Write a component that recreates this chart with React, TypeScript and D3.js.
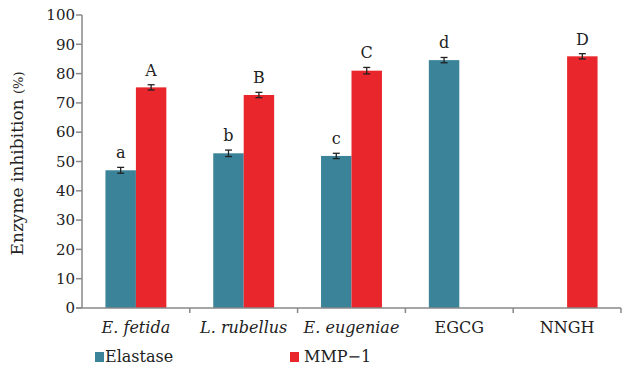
import React from 'react';
import * as d3 from 'd3';

const categories = ['E. fetida', 'L. rubellus', 'E. eugeniae', 'EGCG', 'NNGH'];
const italicCats = ['E. fetida', 'L. rubellus', 'E. eugeniae'];
const series = ['Elastase', 'MMP−1'];
const elastase = [47.0, 52.8, 51.9, 84.6, null];
const elastaseErr = [1.0, 1.1, 0.9, 0.9, null];
const mmp1 = [75.3, 72.7, 81.0, null, 85.9];
const mmp1Err = [0.9, 0.9, 1.1, null, 0.9];
const elastaseLetters = ['a', 'b', 'c', 'd', null];
const mmpLetters = ['A', 'B', 'C', null, 'D'];
const yTicks = [0, 10, 20, 30, 40, 50, 60, 70, 80, 90, 100];
const colors = ['#3a8398', '#e8262c'];

const W = 622;
const H = 370;
const margin = { left: 82, right: 1, top: 15, bottom: 62 };
const font = '"DejaVu Serif", serif';

const App = () => {
  const x = d3.scaleBand<string>().domain(categories).range([margin.left, W - margin.right]);
  const xs = d3.scaleBand<string>().domain(series).range([0, x.bandwidth()]).paddingInner(0).paddingOuter(0.77);
  const y = d3.scaleLinear().domain([0, 100]).range([H - margin.bottom, margin.top]);
  const bw = xs.bandwidth();
  const y0 = y(0);

  const rows = categories.map((c, i) => [
    { s: series[0], v: elastase[i], e: elastaseErr[i], l: elastaseLetters[i], color: colors[0] },
    { s: series[1], v: mmp1[i], e: mmp1Err[i], l: mmpLetters[i], color: colors[1] },
  ]);

  return (
    <svg width={W} height={H} style={{ position: 'absolute', left: 0, top: 0, background: '#fff' }}>
      {/* bars */}
      {categories.map((c, i) => (
        <g key={c} transform={`translate(${x(c)},0)`}>
          {rows[i].map(d => d.v == null ? null : (
            <g key={d.s}>
              <rect x={xs(d.s)} y={y(d.v)} width={bw} height={y0 - y(d.v)} fill={d.color} />
              <line x1={xs(d.s)! + bw / 2} x2={xs(d.s)! + bw / 2} y1={y(d.v + d.e!)} y2={y(d.v - d.e!)} stroke="#222" strokeWidth={1.3} />
              <line x1={xs(d.s)! + bw / 2 - 3.5} x2={xs(d.s)! + bw / 2 + 3.5} y1={y(d.v + d.e!)} y2={y(d.v + d.e!)} stroke="#222" strokeWidth={1.3} />
              <line x1={xs(d.s)! + bw / 2 - 3.5} x2={xs(d.s)! + bw / 2 + 3.5} y1={y(d.v - d.e!)} y2={y(d.v - d.e!)} stroke="#222" strokeWidth={1.3} />
              <text x={xs(d.s)! + bw / 2} y={y(d.v + d.e!) - 9} textAnchor="middle" fontFamily={font} fontSize={16} fill="#222">{d.l}</text>
            </g>
          ))}
        </g>
      ))}

      {/* y axis */}
      <line x1={margin.left} x2={margin.left} y1={y(100)} y2={y0} stroke="#888" strokeWidth={1.5} />
      {yTicks.map(t => (
        <g key={t}>
          <line x1={margin.left - 6} x2={margin.left} y1={y(t)} y2={y(t)} stroke="#888" strokeWidth={1.5} />
          <text x={margin.left - 7} y={y(t)} dy="0.35em" textAnchor="end" fontFamily={font} fontSize={15} fill="#222">{t}</text>
        </g>
      ))}

      {/* x axis */}
      <line x1={margin.left - 6} x2={W - margin.right} y1={y0} y2={y0} stroke="#888" strokeWidth={1.5} />
      {categories.map(c => (
        <line key={c} x1={x(c)! + x.bandwidth()} x2={x(c)! + x.bandwidth()} y1={y0} y2={y0 + 5} stroke="#888" strokeWidth={1.5} />
      ))}
      {categories.map(c => (
        <text key={c} x={x(c)! + x.bandwidth() / 2} y={y0 + 25} textAnchor="middle" fontFamily={font} fontSize={16}
          fontStyle={italicCats.includes(c) ? 'italic' : 'normal'} fill="#222">{c}</text>
      ))}

      {/* y label */}
      <text transform={`translate(23,${(y(100) + y0) / 2 + 2}) rotate(-90)`} textAnchor="middle" fontFamily={font} fontSize={17} fill="#222">
        Enzyme inhibition <tspan fontSize={13}>(%)</tspan>
      </text>

      {/* legend */}
      {series.map((s, i) => (
        <g key={s} transform={`translate(${i === 0 ? 95 : 290},352)`}>
          <rect x={0} y={0} width={9} height={10} fill={colors[i]} />
          <text x={i === 0 ? 10 : 14} y={10} fontFamily={font} fontSize={16} fill="#222">{s}</text>
        </g>
      ))}
    </svg>
  );
};

export default App;
